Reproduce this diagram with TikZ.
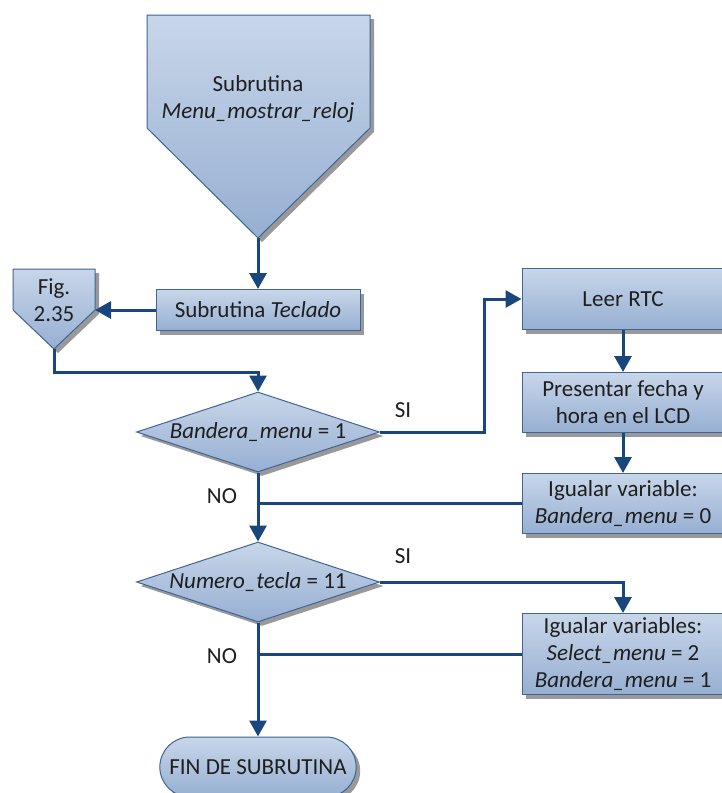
\documentclass[tikz,border=0pt]{standalone}
\usepackage{fontspec}
\setmainfont{Carlito}
\usetikzlibrary{positioning,shapes.geometric,shapes.misc,shadows,arrows.meta}

\definecolor{relleno1}{RGB}{200,214,233}
\definecolor{relleno2}{RGB}{150,175,210}
\definecolor{borde}{RGB}{65,100,150}
\definecolor{linea}{RGB}{25,70,125}

\begin{document}
\begin{tikzpicture}[x=1pt, y=-1pt, >={Triangle[width=17pt,length=16pt]},
	every node/.style={font=\fontsize{23}{27}\selectfont, text=black!88},
	sombra/.style={drop shadow={shadow xshift=4pt, shadow yshift=-4pt, fill=black!40, opacity=1}},
	relleno/.style={top color=relleno1, bottom color=relleno2, draw=borde, line width=1pt, sombra},
	bloque/.style={rectangle, relleno, align=center, inner sep=0pt, minimum width=202pt},
	decision/.style={diamond, aspect=3, relleno, inner sep=0pt, minimum width=243pt, minimum height=80pt},
	fin/.style={rounded rectangle, relleno, minimum width=203pt, minimum height=60pt},
	flecha/.style={->, draw=linea, line width=3pt},
	union/.style={draw=linea, line width=3pt}]

		\useasboundingbox (0,0) rectangle (722,793);
		\clip (0,0) rectangle (722,793);

		% conectores fuera de pagina
		\path[relleno] (147,15) -- (370,15) -- (370,128) -- (258,238) -- (147,128) -- cycle;
		\node [align=center] (inicio) at (258,99) {Subrutina\\\textit{Menu\_mostrar\_reloj}};
		\coordinate (inicio-sur) at (258,238);

		\path[relleno] (13,269) -- (95,269) -- (95,310) -- (54,349) -- (13,310) -- cycle;
		\node [align=center] (fig) at (54,300) {Fig.\\2.35};
		\coordinate (fig-este) at (95,310);
		\coordinate (fig-sur) at (54,349);

		% columna principal
		\node [bloque, minimum width=204pt, minimum height=41pt] (teclado) at (258,310) {Subrutina \textit{Teclado}};
		\node [decision] (dec1) at (258,432) {\textit{Bandera\_menu} = 1};
		\node [decision] (dec2) at (258,582) {\textit{Numero\_tecla} = 11};
		\node [fin] (fin) at (258,767) {FIN DE SUBRUTINA};

		% columna derecha
		\node [bloque, minimum height=61pt] (leer) at (623,299) {Leer RTC};
		\node [bloque, minimum height=60pt, below=42pt of leer] (presentar) {Presentar fecha y\\hora en el LCD};
		\node [bloque, minimum height=60pt, below=40pt of presentar] (igualar1) {Igualar variable:\\\textit{Bandera\_menu} = 0};
		\node [bloque, minimum height=81pt] (igualar2) at (623,654) {Igualar variables:\\\textit{Select\_menu} = 2\\\textit{Bandera\_menu} = 1};

		\draw [flecha] (inicio-sur) -- (teclado.north);
		\draw [flecha] (teclado.west) -- (fig-este);
		\draw [flecha] (fig-sur) -- ++(0,23) -| (dec1.north);
		\draw [flecha] (dec1.east) -- ++(104,0) |- (leer.west);
		\draw [flecha] (leer) -- (presentar);
		\draw [flecha] (presentar) -- (igualar1);
		\draw [union] (igualar1.west) -- (igualar1.west -| dec1.south);
		\draw [flecha] (dec1.south) -- (dec2.north);
		\draw [flecha] (dec2.east) -| (igualar2.north);
		\draw [union] (igualar2.west) -- (igualar2.west -| dec2.south);
		\draw [flecha] (dec2.south) -- (fin.north);

		\foreach \t/\px/\py [count=\i] in {SI/403/410, NO/222/496, SI/403/556, NO/222/656}
		\node (rotulo-\i) at (\px,\py) {\t};

	\end{tikzpicture}
\end{document}
